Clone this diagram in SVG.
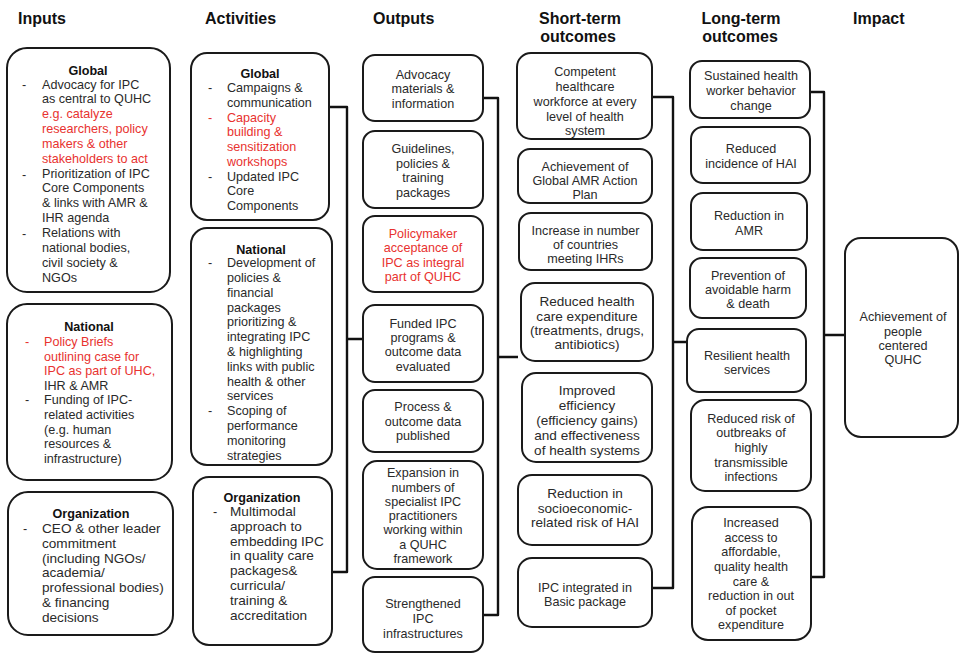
<svg xmlns="http://www.w3.org/2000/svg" width="961" height="655" viewBox="0 0 961 655">
<style>
text{font-family:"Liberation Sans",Arial,sans-serif;font-size:12.6px;fill:#2a2a2a}
.h{font-size:16px;font-weight:bold;fill:#111}
.b{font-weight:bold;fill:#111}
.c{text-anchor:middle}
.r{fill:#e8322f}
.w{font-size:13.6px}
rect{fill:#fff;stroke:#1a1a1a;stroke-width:2}
.con path{fill:none;stroke:#111;stroke-width:2.4;stroke-linejoin:round}
</style>
<rect x="0" y="0" width="961" height="655" style="fill:#fff;stroke:none"/>
<g id="headers">
<text class="h" x="18" y="24">Inputs</text>
<text class="h" x="205" y="24">Activities</text>
<text class="h" x="373" y="24">Outputs</text>
<text class="h c" x="580" y="24">Short-term</text>
<text class="h c" x="578" y="42">outcomes</text>
<text class="h c" x="741" y="24">Long-term</text>
<text class="h c" x="740" y="42">outcomes</text>
<text class="h" x="853" y="24">Impact</text>
</g>
<g class="con" id="connectors">
<path d="M329,107 H347 V572 H332 M347,339 H363"/>
<path d="M483,98 H498 V615 H483 M498,357 H518"/>
<path d="M652,97 H673 V588 H652 M673,342 H688"/>
<path d="M810,92 H824 V577 H811 M824,335 H845"/>
</g>
<g id="in-global">
<rect x="7" y="48" width="163" height="244" rx="20"/>
<text class="b c" x="88" y="74.5">Global</text>
<text x="22" y="88.5">-</text>
<text x="22" y="178.6">-</text>
<text x="22" y="237.9">-</text>
<text x="42" y="88.5">Advocacy for IPC<tspan x="42" dy="14.85">as central to QUHC</tspan><tspan class="r" x="42" dy="14.85">e.g. catalyze</tspan><tspan class="r" x="42" dy="14.85">researchers, policy</tspan><tspan class="r" x="42" dy="14.85">makers &amp; other</tspan><tspan class="r" x="42" dy="14.85">stakeholders to act</tspan><tspan x="42" dy="14.85">Prioritization of IPC</tspan><tspan x="42" dy="14.85">Core Components</tspan><tspan x="42" dy="14.85">&amp; links with AMR &amp;</tspan><tspan x="42" dy="14.85">IHR agenda</tspan><tspan x="42" dy="14.85">Relations with</tspan><tspan x="42" dy="14.85">national bodies,</tspan><tspan x="42" dy="14.85">civil society &amp;</tspan><tspan x="42" dy="14.85">NGOs</tspan></text>
</g>
<g id="in-national">
<rect x="7" y="304" width="165" height="176" rx="20"/>
<text class="b c" x="89" y="330.5">National</text>
<text class="r" x="25" y="346">-</text>
<text x="25" y="404.4">-</text>
<text x="44" y="346"><tspan class="r">Policy Briefs</tspan><tspan class="r" x="44" dy="14.6">outlining case for</tspan><tspan class="r" x="44" dy="14.6">IPC as part of UHC,</tspan><tspan x="44" dy="14.6">IHR &amp; AMR</tspan><tspan x="44" dy="14.6">Funding of IPC-</tspan><tspan x="44" dy="14.6">related activities</tspan><tspan x="44" dy="14.6">(e.g. human</tspan><tspan x="44" dy="14.6">resources &amp;</tspan><tspan x="44" dy="14.6">infrastructure)</tspan></text>
</g>
<g id="in-organization">
<rect x="8" y="492" width="165" height="143" rx="20"/>
<text class="b c" x="91" y="518">Organization</text>
<text x="23" y="533">-</text>
<text class="w" x="42" y="533">CEO &amp; other leader<tspan x="42" dy="14.8">commitment</tspan><tspan x="42" dy="14.8">(including NGOs/</tspan><tspan x="42" dy="14.8">academia/</tspan><tspan x="42" dy="14.8">professional bodies)</tspan><tspan x="42" dy="14.8">&amp; financing</tspan><tspan x="42" dy="14.8">decisions</tspan></text>
</g>
<g id="act-global">
<rect x="191" y="53" width="138" height="167" rx="16"/>
<text class="b c" x="260" y="77.8">Global</text>
<text x="208" y="92.2">-</text>
<text class="r" x="208" y="121.7">-</text>
<text x="208" y="180.7">-</text>
<text x="227" y="92.2">Campaigns &amp;<tspan x="227" dy="14.75">communication</tspan><tspan class="r" x="227" dy="14.75">Capacity</tspan><tspan class="r" x="227" dy="14.75">building &amp;</tspan><tspan class="r" x="227" dy="14.75">sensitization</tspan><tspan class="r" x="227" dy="14.75">workshops</tspan><tspan x="227" dy="14.75">Updated IPC</tspan><tspan x="227" dy="14.75">Core</tspan><tspan x="227" dy="14.75">Components</tspan></text>
</g>
<g id="act-national">
<rect x="191" y="228" width="141" height="237" rx="16"/>
<text class="b c" x="261" y="253.5">National</text>
<text x="208" y="267.2">-</text>
<text x="208" y="415.2">-</text>
<text x="227" y="267.2">Development of<tspan x="227" dy="14.8">policies &amp;</tspan><tspan x="227" dy="14.8">financial</tspan><tspan x="227" dy="14.8">packages</tspan><tspan x="227" dy="14.8">prioritizing &amp;</tspan><tspan x="227" dy="14.8">integrating IPC</tspan><tspan x="227" dy="14.8">&amp; highlighting</tspan><tspan x="227" dy="14.8">links with public</tspan><tspan x="227" dy="14.8">health &amp; other</tspan><tspan x="227" dy="14.8">services</tspan><tspan x="227" dy="14.8">Scoping of</tspan><tspan x="227" dy="14.8">performance</tspan><tspan x="227" dy="14.8">monitoring</tspan><tspan x="227" dy="14.8">strategies</tspan></text>
</g>
<g id="act-organization">
<rect x="193" y="477" width="139" height="168" rx="16"/>
<text class="b c" x="262" y="501.5">Organization</text>
<text x="213" y="516.2">-</text>
<text class="w" x="230" y="516.2">Multimodal<tspan x="230" dy="14.76">approach to</tspan><tspan x="230" dy="14.76">embedding IPC</tspan><tspan x="230" dy="14.76">in quality care</tspan><tspan x="230" dy="14.76">packages&amp;</tspan><tspan x="230" dy="14.76">curricula/</tspan><tspan x="230" dy="14.76">training &amp;</tspan><tspan x="230" dy="14.76">accreditation</tspan></text>
</g>
<g id="out-1">
<rect x="363" y="55" width="120" height="66" rx="12"/>
<text class="c" x="423" y="78.8">Advocacy<tspan x="423" dy="14.5">materials &amp;</tspan><tspan x="423" dy="14.5">information</tspan></text>
</g>
<g id="out-2">
<rect x="363" y="131" width="120" height="77" rx="12"/>
<text class="c" x="423" y="152.8">Guidelines,<tspan x="423" dy="14.8">policies &amp;</tspan><tspan x="423" dy="14.8">training</tspan><tspan x="423" dy="14.8">packages</tspan></text>
</g>
<g id="out-3">
<rect x="363" y="216" width="120" height="76" rx="12"/>
<text class="c r" x="423" y="237.8">Policymaker<tspan x="423" dy="14.4">acceptance of</tspan><tspan x="423" dy="14.4">IPC as integral</tspan><tspan x="423" dy="14.4">part of QUHC</tspan></text>
</g>
<g id="out-4">
<rect x="363" y="305" width="120" height="77" rx="12"/>
<text class="c" x="423" y="327.8">Funded IPC<tspan x="423" dy="14.3">programs &amp;</tspan><tspan x="423" dy="14.3">outcome data</tspan><tspan x="423" dy="14.3">evaluated</tspan></text>
</g>
<g id="out-5">
<rect x="363" y="390" width="120" height="62" rx="12"/>
<text class="c" x="423" y="411.2">Process &amp;<tspan x="423" dy="14.5">outcome data</tspan><tspan x="423" dy="14.5">published</tspan></text>
</g>
<g id="out-6">
<rect x="363" y="461" width="120" height="108" rx="14"/>
<text class="c" x="423" y="477.2">Expansion in<tspan x="423" dy="14.3">numbers of</tspan><tspan x="423" dy="14.3">specialist IPC</tspan><tspan x="423" dy="14.3">practitioners</tspan><tspan x="423" dy="14.3">working within</tspan><tspan x="423" dy="14.3">a QUHC</tspan><tspan x="423" dy="14.3">framework</tspan></text>
</g>
<g id="out-7">
<rect x="363" y="577" width="120" height="75" rx="12"/>
<text class="c" x="423" y="607.8">Strengthened<tspan x="423" dy="15">IPC</tspan><tspan x="423" dy="15">infrastructures</tspan></text>
</g>
<g id="st-1">
<rect x="517" y="53" width="135" height="86" rx="14"/>
<text class="c" x="585" y="76.2">Competent<tspan x="585" dy="14.8">healthcare</tspan><tspan x="585" dy="14.8">workforce at every</tspan><tspan x="585" dy="14.8">level of health</tspan><tspan x="585" dy="14.8">system</tspan></text>
</g>
<g id="st-2">
<rect x="518" y="149" width="134" height="54" rx="12"/>
<text class="c" x="585" y="171.2">Achievement of<tspan x="585" dy="14">Global AMR Action</tspan><tspan x="585" dy="14">Plan</tspan></text>
</g>
<g id="st-3">
<rect x="519" y="213" width="133" height="57" rx="12"/>
<text class="c" x="585.5" y="234.5">Increase in number<tspan x="585.5" dy="14.2">of countries</tspan><tspan x="585.5" dy="14.2">meeting IHRs</tspan></text>
</g>
<g id="st-4">
<rect x="521" y="283" width="132" height="78" rx="14"/>
<text class="c w" x="587" y="306.2">Reduced health<tspan x="587" dy="14.4">care expenditure</tspan><tspan x="587" dy="14.4">(treatments, drugs,</tspan><tspan x="587" dy="14.4">antibiotics)</tspan></text>
</g>
<g id="st-5">
<rect x="522" y="373" width="130" height="89" rx="14"/>
<text class="c w" x="587" y="394.5">Improved<tspan x="587" dy="15">efficiency</tspan><tspan x="587" dy="15">(efficiency gains)</tspan><tspan x="587" dy="15">and effectiveness</tspan><tspan x="587" dy="15">of health systems</tspan></text>
</g>
<g id="st-6">
<rect x="518" y="475" width="134" height="70" rx="14"/>
<text class="c w" x="585" y="497.8">Reduction in<tspan x="585" dy="14.7">socioeconomic-</tspan><tspan x="585" dy="14.7">related risk of HAI</tspan></text>
</g>
<g id="st-7">
<rect x="518" y="558" width="134" height="69" rx="14"/>
<text class="c" x="585" y="592">IPC integrated in<tspan x="585" dy="14">Basic package</tspan></text>
</g>
<g id="lt-1">
<rect x="690" y="61" width="120" height="57" rx="12"/>
<text class="c" x="751" y="79.5">Sustained health<tspan x="751" dy="15">worker behavior</tspan><tspan x="751" dy="15">change</tspan></text>
</g>
<g id="lt-2">
<rect x="691" y="127" width="119" height="56" rx="12"/>
<text class="c" x="751" y="152.8">Reduced<tspan x="751" dy="15">incidence of HAI</tspan></text>
</g>
<g id="lt-3">
<rect x="691" y="193" width="116" height="57" rx="12"/>
<text class="c" x="749" y="219.5">Reduction in<tspan x="749" dy="15">AMR</tspan></text>
</g>
<g id="lt-4">
<rect x="690" y="258" width="116" height="60" rx="12"/>
<text class="c" x="748" y="279.5">Prevention of<tspan x="748" dy="14.2">avoidable harm</tspan><tspan x="748" dy="14.2">&amp; death</tspan></text>
</g>
<g id="lt-5">
<rect x="687" y="329" width="119" height="63" rx="12"/>
<text class="c" x="747" y="359.5">Resilient health<tspan x="747" dy="14">services</tspan></text>
</g>
<g id="lt-6">
<rect x="691" y="400" width="120" height="91" rx="14"/>
<text class="c" x="751" y="422.8">Reduced risk of<tspan x="751" dy="14.6">outbreaks of</tspan><tspan x="751" dy="14.6">highly</tspan><tspan x="751" dy="14.6">transmissible</tspan><tspan x="751" dy="14.6">infections</tspan></text>
</g>
<g id="lt-7">
<rect x="692" y="507" width="119" height="133" rx="16"/>
<text class="c" x="751" y="527.2">Increased<tspan x="751" dy="14.6">access to</tspan><tspan x="751" dy="14.6">affordable,</tspan><tspan x="751" dy="14.6">quality health</tspan><tspan x="751" dy="14.6">care &amp;</tspan><tspan x="751" dy="14.6">reduction in out</tspan><tspan x="751" dy="14.6">of pocket</tspan><tspan x="751" dy="14.6">expenditure</tspan></text>
</g>
<g id="impact">
<rect x="845" y="238" width="113" height="199" rx="16"/>
<text class="c" x="903" y="321.2">Achievement of<tspan x="903" dy="14.4">people</tspan><tspan x="903" dy="14.4">centered</tspan><tspan x="903" dy="14.4">QUHC</tspan></text>
</g>
</svg>
